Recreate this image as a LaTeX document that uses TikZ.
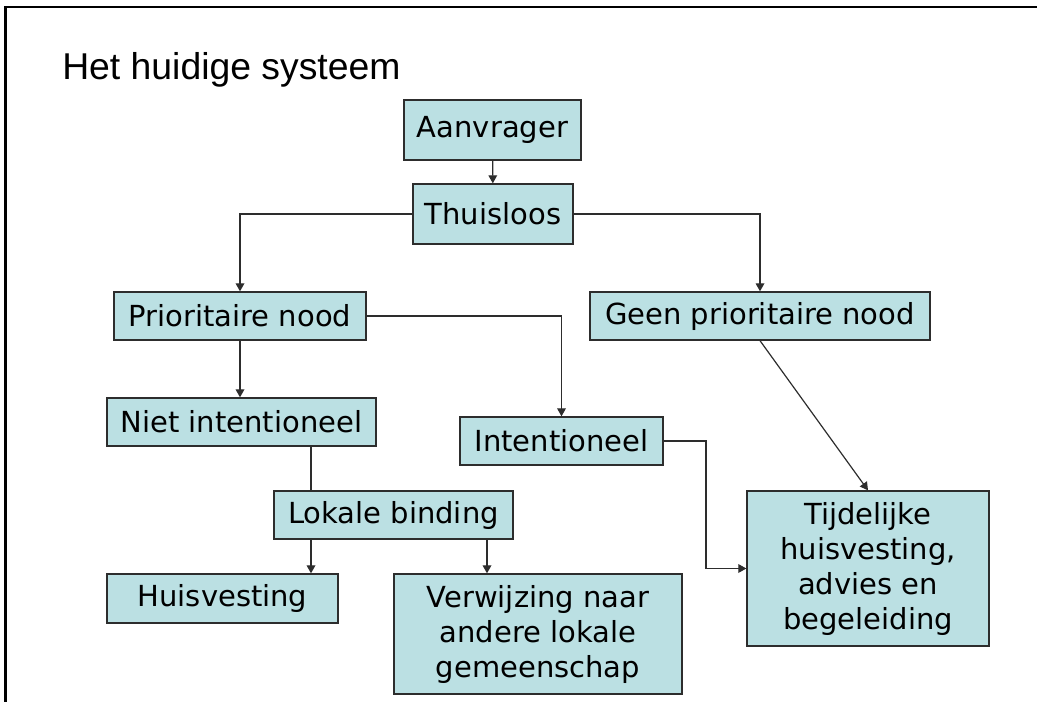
\documentclass[tikz,border=0pt]{standalone}
\usepackage{fontspec}
\setmainfont{DejaVu Sans}
\newfontfamily\titlefont{Liberation Sans}
\usetikzlibrary{arrows.meta}

\definecolor{boxfill}{RGB}{187,224,227}
\definecolor{boxline}{RGB}{45,45,45}

\begin{document}
\begin{tikzpicture}[
    x=0.75pt, y=-0.75pt,
    box/.style={rectangle, draw=boxline, fill=boxfill, line width=1pt, inner sep=0pt,
        align=center, font=\fontsize{21.75}{26.25}\selectfont},
    arrow/.style={-{Triangle[length=6pt, width=6.5pt]}, line width=0.9pt, draw=boxline},
    link/.style={line width=0.9pt, draw=boxline}
]
    \useasboundingbox (0,0) rectangle (1037,702);
    \draw[line width=1.9pt] (5.5,702) -- (5.5,7) -- (1037,7);

    \node[anchor=base west, inner sep=0pt, font=\titlefont\fontsize{28}{32}\selectfont] (title) at (62,80) {Het huidige systeem};

    \node[box, minimum width=177*0.75pt, minimum height=60*0.75pt] (aan) at (492.5,130) {Aanvrager};
    \node[box, minimum width=160*0.75pt, minimum height=60*0.75pt] (thu) at (493,214) {Thuisloos};
    \node[box, minimum width=252*0.75pt, minimum height=48*0.75pt] (prio) at (240,316) {Prioritaire nood};
    \node[box, minimum width=340*0.75pt, minimum height=48*0.75pt] (geen) at (760,316) {Geen prioritaire nood};
    \node[box, minimum width=269*0.75pt, minimum height=48*0.75pt] (niet) at (241.5,422) {Niet intentioneel};
    \node[box, minimum width=203*0.75pt, minimum height=48*0.75pt] (inten) at (561.5,441) {Intentioneel};
    \node[box, minimum width=239*0.75pt, minimum height=48*0.75pt] (lok) at (393.5,515) {Lokale binding};
    \node[box, minimum width=231*0.75pt, minimum height=49*0.75pt] (hv) at (222.5,598.5) {Huisvesting};
    \node[box, minimum width=288*0.75pt, minimum height=120*0.75pt] (verw) at (538,634) {Verwijzing naar\\andere lokale\\gemeenschap};
    \node[box, minimum width=242*0.75pt, minimum height=155*0.75pt] (tij) at (868,568.5) {Tijdelijke\\huisvesting,\\advies en\\begeleiding};

    \coordinate (lokl) at (311,0);
    \coordinate (lokr) at (487,0);
    \coordinate (bend) at (706,0);

    \draw[arrow] (aan) -- (thu);
    \draw[arrow] (thu.west) -| (prio.north);
    \draw[arrow] (thu.east) -| (geen.north);
    \draw[arrow] (prio.east) -| (inten.north);
    \draw[arrow] (prio.south) -- (prio.south |- niet.north);
    \draw[link] (niet.south -| lokl) -- (lok.north -| lokl);
    \draw[arrow] (lok.south -| lokl) -- (hv.north -| lokl);
    \draw[arrow] (lok.south -| lokr) -- (verw.north -| lokr);
    \draw[arrow] (inten.east) -| (bend |- tij.west) -- (tij.west);
    \draw[arrow] (geen.south) -- (tij.north);
\end{tikzpicture}
\end{document}
